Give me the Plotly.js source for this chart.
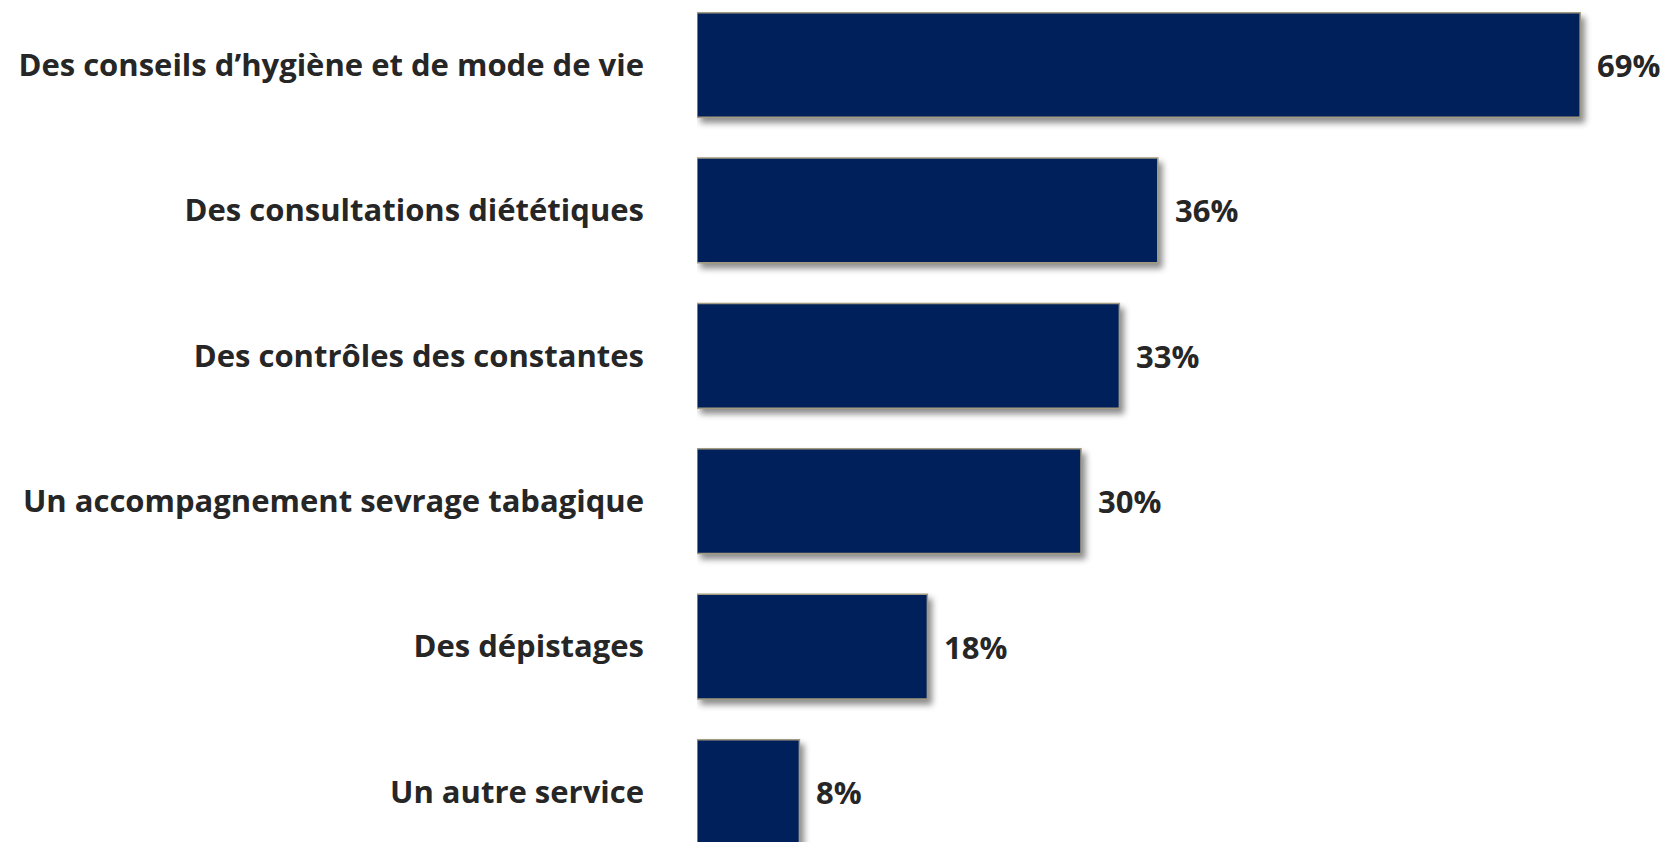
<!DOCTYPE html>
<html><head><meta charset="utf-8">
<script src="https://cdn.plot.ly/plotly-3.0.1.min.js"></script>
<style>
html,body{margin:0;padding:0;background:#fff;}
#chart{width:1664px;height:842px;}
.trace.bars .point path{filter:drop-shadow(4px 5px 3px rgba(0,0,0,0.45));}
</style></head>
<body><div id="chart"></div>
<script>
const categories = [
  "Des conseils d\u2019hygiène et de mode de vie",
  "Des consultations diététiques",
  "Des contrôles des constantes",
  "Un accompagnement sevrage tabagique",
  "Des dépistages",
  "Un autre service"
];
const values = [69, 36, 33, 30, 18, 8];
const valueLabels = values.map(v => v + "%");

const fontFam = "'Open Sans', sans-serif";
const trace = {
  type: "bar",
  orientation: "h",
  y: categories,
  x: values,
  marker: {color: "#00205B", line: {color: "#A39B80", width: 1.5}},
  hoverinfo: "none",
  cliponaxis: false
};
const annotations = values.map((v, i) => ({
  x: v, y: categories[i], xref: "x", yref: "y",
  text: valueLabels[i], showarrow: false, xanchor: "left", xshift: 15,
  font: {family: fontFam, size: 31, color: "#262626", weight: 700}
}));
const layout = {
  width: 1664, height: 842,
  margin: {l: 697, r: 0, t: 0, b: 0},
  paper_bgcolor: "#fff", plot_bgcolor: "#fff",
  showlegend: false,
  bargap: 0.28,
  xaxis: {range: [0, 75.55], showgrid: false, zeroline: false, showticklabels: false, showline: false, ticks: ""},
  yaxis: {type: "category", range: [5.344, -0.447], showgrid: false, zeroline: false, showline: false, ticks: "",
    ticklabelstandoff: 52,
    tickfont: {family: fontFam, size: 31, color: "#262626", weight: 700}},
  annotations: annotations
};
Plotly.newPlot("chart", [trace], layout, {staticPlot: true});
</script></body></html>
